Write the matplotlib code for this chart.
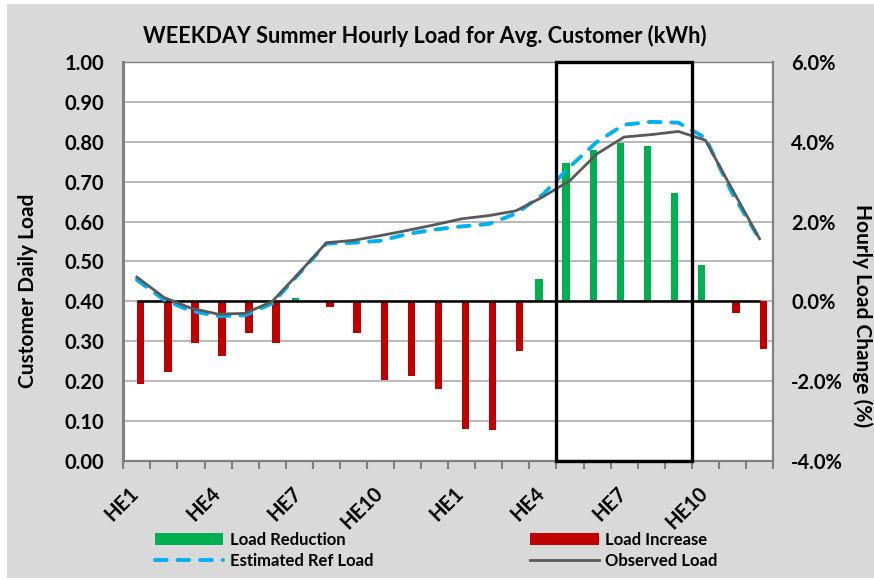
import numpy as np
import matplotlib
matplotlib.use('Agg')
import matplotlib.pyplot as plt
import matplotlib.transforms as mtransforms
from matplotlib.patches import Rectangle
from matplotlib.lines import Line2D
from matplotlib.patches import Patch

plt.rcParams['font.family'] = ['Lato', 'DejaVu Sans']
plt.rcParams['font.weight'] = 'bold'

'''
DATA (read off the reference chart)
'''
hours = ['HE%d' % h for h in range(1, 25)]
tick_labels = ['HE1', 'HE4', 'HE7', 'HE10', 'HE1', 'HE4', 'HE7', 'HE10']

# Observed load (kWh), left axis
observed = [0.461, 0.410, 0.383, 0.368, 0.370, 0.400, 0.472, 0.547,
            0.553, 0.565, 0.578, 0.592, 0.607, 0.615, 0.627, 0.662,
            0.703, 0.770, 0.812, 0.818, 0.826, 0.804, 0.680, 0.557]

# Estimated reference load (kWh), left axis
estimated = [0.454, 0.404, 0.376, 0.363, 0.365, 0.395, 0.470, 0.545,
             0.547, 0.552, 0.569, 0.580, 0.588, 0.594, 0.620, 0.668,
             0.738, 0.800, 0.843, 0.850, 0.848, 0.810, 0.670, 0.556]

# Hourly load change (%), right axis
load_change = [-2.06, -1.78, -1.05, -1.38, -0.79, -1.05, 0.08, -0.15,
               -0.80, -1.97, -1.87, -2.20, -3.20, -3.22, -1.24, 0.57,
               3.46, 3.79, 3.98, 3.90, 2.72, 0.92, -0.28, -1.20]

# event window (hour indices 16..20)
event_start = 16
event_end = 20

'''
PLOT
'''
load_change = np.array(load_change)
reduction = np.where(load_change > 0, load_change, 0)
increase = np.where(load_change < 0, load_change, 0)
x = np.arange(len(hours))

fig = plt.figure(figsize=(8.74, 5.8), dpi=100)
fig.patch.set_facecolor('white')
fig.add_artist(Rectangle((7 / 874, 2 / 580), 867 / 874, 574 / 580, transform=fig.transFigure,
                         facecolor='#d9d9d9', edgecolor='none', zorder=-10))

ax = fig.add_axes([0.1411, 0.2052, 0.7434, 0.6879])
ax2 = ax.twinx()
ax.set_zorder(ax2.get_zorder() + 1)
ax.patch.set_visible(False)
ax2.patch.set_visible(True)
ax2.patch.set_facecolor('white')

gray = '#808080'
bw = 0.28
ax2.bar(x - bw / 2, reduction, width=bw, color='#00b050', zorder=2)
ax2.bar(x + bw / 2, increase, width=bw, color='#c00000', zorder=2)
ax2.hlines(0, x[0], x[-1], color='black', lw=1.8, zorder=3)

ax2.set_ylim(-4, 6)
ax2.set_yticks(np.arange(-4, 7, 2))
ax2.set_yticks(np.arange(-4, 7, 1), minor=True)
ax2.set_yticklabels(['%.1f%%' % v for v in np.arange(-4, 7, 2)], fontsize=14.5, fontweight='bold')
ax2.grid(axis='y', which='both', color='#a6a6a6', lw=1.1)
ax2.set_axisbelow(True)
ax2.tick_params(axis='y', which='both', length=0, pad=13)
for s in ax2.spines.values():
    s.set_visible(False)

ax.plot(x, estimated, color='#00b0f0', lw=2.8, dashes=(3, 2.8), dash_capstyle='round', zorder=3)
ax.plot(x, observed, color='#595959', lw=2.0, zorder=4)

ax.add_patch(Rectangle((event_start - 0.5, 0), event_end - event_start + 1, 1, fill=False,
                       edgecolor='black', lw=2.4, zorder=6, clip_on=False))

ax.set_xlim(-0.5, len(hours) - 0.5)
ax.set_ylim(0, 1)
ax.set_yticks(np.arange(0, 1.01, 0.1))
ax.set_yticklabels(['%.2f' % v for v in np.arange(0, 1.01, 0.1)], fontsize=14.5, fontweight='bold')
ax.tick_params(axis='y', length=0, pad=14)

ax.set_xticks(x[::3])
ax.set_xticklabels(tick_labels, fontsize=14.5, fontweight='bold', rotation=45, ha='right',
                   va='top', rotation_mode='anchor')
ax.set_xticks(np.arange(-0.5, len(hours), 1), minor=True)
ax.tick_params(axis='x', which='major', length=0, pad=16)
ax.tick_params(axis='x', which='minor', length=6, width=1.5, color=gray, direction='out')
shift = mtransforms.ScaledTranslation(-0.08, 0, fig.dpi_scale_trans)
for lab in ax.get_xticklabels():
    lab.set_transform(lab.get_transform() + shift)

ax.spines['left'].set_linewidth(2.2)
ax.spines['bottom'].set_linewidth(1.6)
ax.spines['right'].set_linewidth(1.6)
ax.spines['top'].set_linewidth(1.0)
for s in ax.spines.values():
    s.set_color(gray)

fig.text(425 / 874, 1 - 36 / 580, 'WEEKDAY Summer Hourly Load for Avg. Customer (kWh)',
         ha='center', va='center', fontsize=15.6, fontweight='bold')
fig.text(28 / 874, 1 - 291 / 580, 'Customer Daily Load', rotation=90, ha='center', va='center',
         fontsize=15, fontweight='bold')
fig.text(862 / 874, 1 - 316 / 580, 'Hourly Load Change (%)', rotation=270, ha='center', va='center',
         fontsize=15, fontweight='bold')

handles = [Patch(facecolor='#00b050', edgecolor='none'),
           Line2D([], [], color='#00b0f0', lw=2.8, dashes=(3, 2.8), dash_capstyle='round'),
           Patch(facecolor='#c00000', edgecolor='none'),
           Line2D([], [], color='#595959', lw=2.0)]
labels = ['Load Reduction', 'Estimated Ref Load', 'Load Increase', 'Observed Load']
fig.legend(handles, labels, loc='upper left', bbox_to_anchor=(155 / 874, 1 - 532 / 580), ncol=2,
           frameon=False, handlelength=4.1, handletextpad=0.4, borderpad=0, borderaxespad=0,
           labelspacing=0.3, columnspacing=9.4, prop={'weight': 'bold', 'size': 12})

fig.savefig('out.png', dpi=100, facecolor=fig.get_facecolor())
